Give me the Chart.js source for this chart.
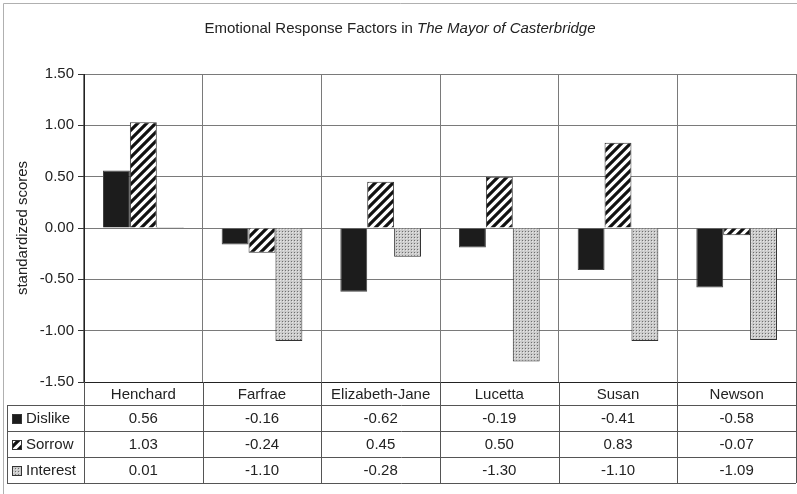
<!DOCTYPE html>
<html>
<head>
<meta charset="utf-8">
<script src="https://cdn.jsdelivr.net/npm/chart.js@4/dist/chart.umd.min.js"></script>
<style>
html,body{margin:0;padding:0;background:#fff;}
#wrap{width:797px;height:494px;position:relative;}
</style>
</head>
<body>
<div id="wrap"><canvas id="c" width="797" height="494"></canvas></div>
<script>
const categories = ["Henchard", "Farfrae", "Elizabeth-Jane", "Lucetta", "Susan", "Newson"];
const dislike  = [0.56, -0.16, -0.62, -0.19, -0.41, -0.58];
const sorrow   = [1.03, -0.24, 0.45, 0.50, 0.83, -0.07];
const interest = [0.01, -1.10, -0.28, -1.30, -1.10, -1.09];
const seriesNames = ["Dislike", "Sorrow", "Interest"];
const titlePlain = "Emotional Response Factors in ";
const titleItalic = "The Mayor of Casterbridge";
const yTitle = "standardized scores";

const FONT = '"Liberation Sans", Arial, sans-serif';

function stripePattern() {
  const s = 9;
  const c = document.createElement('canvas');
  c.width = s; c.height = s;
  const g = c.getContext('2d');
  g.fillStyle = '#fff'; g.fillRect(0,0,s,s);
  g.strokeStyle = '#111'; g.lineWidth = 3.2;
  g.beginPath();
  for (let k = -1; k <= 1; k++) {
    g.moveTo(-s + k*s, s + s); g.lineTo(s + s + k*s, -s);
  }
  g.stroke();
  return document.getElementById('c').getContext('2d').createPattern(c, 'repeat');
}
function dotPattern() {
  const c = document.createElement('canvas');
  c.width = 3; c.height = 3;
  const g = c.getContext('2d');
  g.fillStyle = '#cbcbcb'; g.fillRect(0,0,3,3);
  g.fillStyle = '#6e6e6e';
  g.fillRect(0,0,1,1);
  g.fillStyle = '#e6e6e6';
  g.fillRect(1,1,1,1);
  return document.getElementById('c').getContext('2d').createPattern(c, 'repeat');
}
const pStripe = stripePattern();
const pDots = dotPattern();
const fills = ['#1c1c1c', pStripe, pDots];

const TABLE = { left: 7, labelTop: 382, rowTop: 405, rowH: 26 };

const framePlugin = {
  id: 'frame',
  beforeDraw(chart) {
    const ctx = chart.ctx;
    ctx.save();
    ctx.fillStyle = '#fff';
    ctx.fillRect(0,0,chart.width,chart.height);
    ctx.strokeStyle = '#b0b0b0'; ctx.lineWidth = 1;
    ctx.beginPath();
    ctx.moveTo(3.5, 494); ctx.lineTo(3.5, 3.5); ctx.lineTo(797, 3.5);
    ctx.stroke();
    ctx.font = '15px ' + FONT;
    const w1 = ctx.measureText(titlePlain).width;
    ctx.font = 'italic 15px ' + FONT;
    const w2 = ctx.measureText(titleItalic).width;
    const x0 = 400 - (w1 + w2) / 2;
    ctx.fillStyle = '#222';
    ctx.textBaseline = 'middle';
    ctx.textAlign = 'left';
    ctx.font = '15px ' + FONT;
    ctx.fillText(titlePlain, x0, 29);
    ctx.font = 'italic 15px ' + FONT;
    ctx.fillText(titleItalic, x0 + w1, 29);
    ctx.restore();
  },
  afterDraw(chart) {
    const ctx = chart.ctx;
    const xs = chart.scales.x;
    const area = chart.chartArea;
    const n = categories.length;
    const cw = (area.right - area.left) / n;
    const rows = [dislike, sorrow, interest];
    const bottom = TABLE.rowTop + TABLE.rowH * rows.length;
    ctx.save();
    ctx.strokeStyle = '#555'; ctx.lineWidth = 1;
    ctx.beginPath();
    for (let i = 0; i <= n; i++) {
      const x = Math.round(area.left + i * cw) + 0.5;
      ctx.moveTo(x, area.bottom); ctx.lineTo(x, bottom);
    }
    ctx.moveTo(TABLE.left + 0.5, TABLE.rowTop); ctx.lineTo(TABLE.left + 0.5, bottom);
    for (let r = 0; r <= rows.length; r++) {
      const y = TABLE.rowTop + r * TABLE.rowH + 0.5;
      ctx.moveTo(TABLE.left, y); ctx.lineTo(area.right, y);
    }
    ctx.stroke();
    ctx.fillStyle = '#222';
    ctx.font = '15px ' + FONT;
    ctx.textAlign = 'center'; ctx.textBaseline = 'middle';
    categories.forEach((c, i) => {
      ctx.fillText(c, xs.getPixelForValue(i), (area.bottom + TABLE.rowTop) / 2 + 1);
    });
    rows.forEach((vals, r) => {
      const yc = TABLE.rowTop + r * TABLE.rowH + TABLE.rowH / 2 + 1;
      ctx.fillStyle = fills[r];
      ctx.fillRect(12, yc - 5, 10, 10);
      ctx.strokeStyle = '#333';
      ctx.strokeRect(12.5, yc - 4.5, 9, 9);
      ctx.fillStyle = '#222';
      ctx.textAlign = 'left';
      ctx.fillText(seriesNames[r], 26, yc);
      ctx.textAlign = 'center';
      vals.forEach((v, i) => {
        ctx.fillText(v.toFixed(2), xs.getPixelForValue(i), yc);
      });
    });
    ctx.restore();
  }
};

new Chart(document.getElementById('c'), {
  type: 'bar',
  data: {
    labels: categories,
    datasets: [
      { label: seriesNames[0], data: dislike, backgroundColor: fills[0], borderColor: '#444', borderWidth: 1 },
      { label: seriesNames[1], data: sorrow, backgroundColor: fills[1], borderColor: '#333', borderWidth: 1 },
      { label: seriesNames[2], data: interest, backgroundColor: fills[2], borderColor: '#333', borderWidth: 1 }
    ]
  },
  options: {
    responsive: false,
    animation: false,
    devicePixelRatio: 1,
    layout: { padding: { left: 14, right: 1, top: 74, bottom: 112 } },
    plugins: { legend: { display: false }, title: { display: false }, tooltip: { enabled: false } },
    datasets: { bar: { categoryPercentage: 0.68, barPercentage: 1.0 } },
    scales: {
      x: {
        offset: true,
        ticks: { display: false },
        grid: { offset: true, color: '#7a7a7a', drawTicks: false, lineWidth: 1 },
        border: { display: true, color: '#222' },
        afterFit(s) { s.height = 0; }
      },
      y: {
        min: -1.5, max: 1.5,
        ticks: { stepSize: 0.5, callback: v => Number(v).toFixed(2), font: { family: FONT, size: 15 }, color: '#222', padding: 4 },
        grid: { color: '#7a7a7a', tickColor: '#333', tickLength: 6 },
        border: { display: true, color: '#222' },
        title: { display: true, text: yTitle, font: { family: FONT, size: 15 }, color: '#222', padding: { top: 0, bottom: 0 } },
        afterFit(s) { s.width = 70; }
      }
    }
  },
  plugins: [framePlugin]
});
</script>
</body>
</html>
